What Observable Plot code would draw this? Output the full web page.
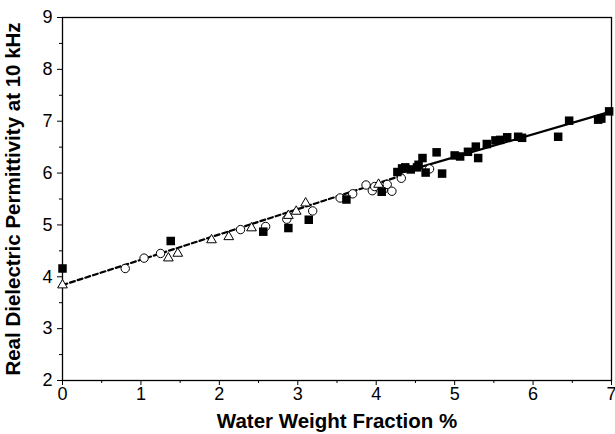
<!DOCTYPE html>
<html><head><meta charset="utf-8">
<script src="https://cdn.jsdelivr.net/npm/d3@7"></script>
<script src="https://cdn.jsdelivr.net/npm/@observablehq/plot@0.6"></script>
<style>
body{margin:0;background:#fff;}
#chart svg{font-family:"Liberation Sans",Arial,sans-serif;}
g[aria-label="y-axis label"],g[aria-label="x-axis label"]{font-weight:bold;font-size:20.5px;}
</style>
</head><body><div id="chart"></div>
<script>
// Filled squares
const sqX = [0,1.38,2.56,2.88,3.14,3.62,4.07,4.27,4.33,4.37,4.44,4.52,4.54,4.59,4.63,4.77,4.84,5.00,5.07,5.17,5.27,5.30,5.41,5.52,5.58,5.67,5.81,5.86,6.32,6.46,6.83,6.87,6.97];
const sqY = [4.16,4.69,4.87,4.94,5.10,5.49,5.64,6.02,6.09,6.11,6.07,6.11,6.16,6.29,6.01,6.40,5.99,6.34,6.32,6.41,6.51,6.29,6.56,6.63,6.64,6.69,6.70,6.68,6.70,7.01,7.03,7.05,7.19];
// Open circles
const ciX = [0.80,1.04,1.25,2.27,2.59,2.86,3.19,3.54,3.70,3.87,3.95,3.98,4.09,4.14,4.20,4.32,4.68];
const ciY = [4.16,4.36,4.45,4.91,4.97,5.11,5.27,5.52,5.60,5.77,5.66,5.74,5.68,5.78,5.65,5.90,6.08];
// Open triangles
const trX = [0,1.35,1.47,1.90,2.12,2.41,2.88,2.98,3.10,4.03];
const trY = [3.84,4.36,4.45,4.71,4.77,4.94,5.18,5.26,5.42,5.78];
// Fit lines
const dashX = [0,4.3];
const dashY = [3.84,5.94];
const solidX = [4.3,7.0];
const solidY = [6.0,7.19];

const xTicks = [0,1,2,3,4,5,6,7];
const yTicks = [2,3,4,5,6,7,8,9];
const xMinor = d3.range(0.5,7,1);
const yMinor = d3.range(2.5,9,1);

const toRows = (xs, ys) => xs.map((x,i)=>({x, y: ys[i]}));

const chart = Plot.plot({
  width: 615, height: 434,
  marginLeft: 62, marginRight: 4, marginTop: 17, marginBottom: 54,
  style: {fontSize: "18px", fontFamily: "Liberation Sans, Arial, sans-serif", color: "#000"},
  x: {domain: [0,7]},
  y: {domain: [2,9]},
  marks: [
    Plot.frame({stroke: "#000", strokeWidth: 1.3}),
    Plot.axisX({ticks: xTicks, tickSize: 5, tickPadding: 2, tickFormat: d3.format("d"),
      label: "Water Weight Fraction %", labelAnchor: "center", labelArrow: "none", labelOffset: 47}),
    Plot.axisX({ticks: xMinor, tickSize: 3, tickFormat: () => "", label: null}),
    Plot.axisY({ticks: yTicks, tickSize: 5, tickPadding: 5, tickFormat: d3.format("d"),
      label: "Real Dielectric Permittivity at 10 kHz", labelAnchor: "center", labelArrow: "none", labelOffset: 57}),
    Plot.axisY({ticks: yMinor, tickSize: 3, tickFormat: () => "", label: null}),
    Plot.line(toRows(dashX, dashY), {x: "x", y: "y", stroke: "#000", strokeWidth: 2.2, strokeDasharray: "5,3"}),
    Plot.line(toRows(solidX, solidY), {x: "x", y: "y", stroke: "#000", strokeWidth: 2.2}),
    Plot.dot(toRows(ciX, ciY), {x: "x", y: "y", r: 4.2, symbol: "circle", fill: "#fff", stroke: "#000", strokeWidth: 1}),
    Plot.dot(toRows(trX, trY), {x: "x", y: "y", r: 3.6, symbol: "triangle", fill: "#fff", stroke: "#000", strokeWidth: 1}),
    Plot.dot(toRows(sqX, sqY), {x: "x", y: "y", r: 4.8, symbol: "square", fill: "#000", stroke: "none"})
  ]
});
document.getElementById("chart").appendChild(chart);
</script>
</body></html>
